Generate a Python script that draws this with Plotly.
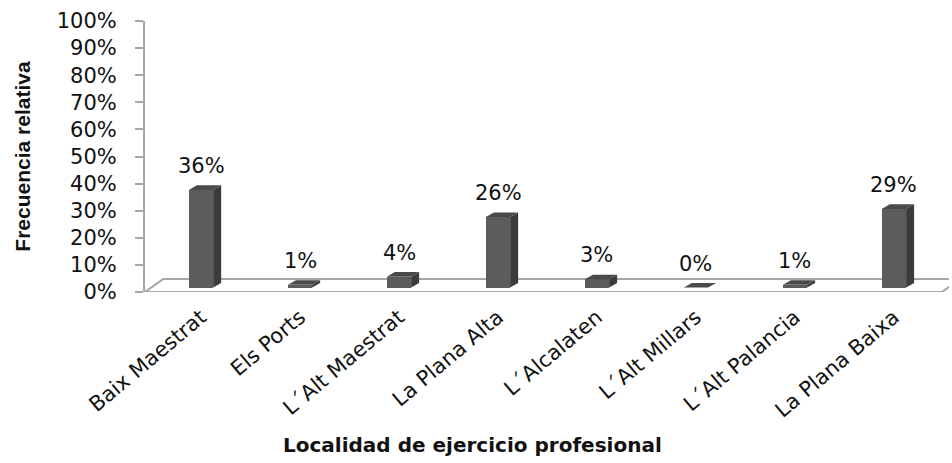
import plotly.graph_objects as go

# Frequency of professional practice by comarca
categories = ["Baix Maestrat", "Els Ports", "L\u00b4Alt Maestrat", "La Plana Alta",
              "L\u00b4Alcalaten", "L\u00b4Alt Millars", "L\u00b4Alt Palancia", "La Plana Baixa"]
values = [36, 1, 4, 26, 3, 0, 1, 29]
y_ticks = list(range(0, 101, 10))
y_tick_labels = [f"{t}%" for t in y_ticks]
x_title = "Localidad de ejercicio profesional"
y_title = "Frecuencia relativa"

# pseudo-3D geometry (category units / percentage units)
BAR_W = 0.245
BAR_BASE = 1.66        # bars stand slightly back on the floor
DEPTH_X = 0.081
DEPTH_Y = 1.7
FLOOR_X = 0.185
FLOOR_Y = 4.8
X_MIN, X_MAX = -0.566, 7.556

FRONT = "#5c5c5c"
SIDE = "#3b3b3b"
TOP = "#4a4a4a"
EDGE = "#a6a6a6"
TEXT = "#111111"

fig = go.Figure()

# floor of the 3-D plot, kept beneath the bars
fx0, fx1 = X_MIN, 7.485
fig.add_shape(
    type="path", xref="x", yref="y", layer="below",
    path=(f"M {fx0},0 L {fx1},0 L {fx1 + FLOOR_X},{FLOOR_Y} "
          f"L {fx0 + FLOOR_X},{FLOOR_Y} Z"),
    line=dict(color=EDGE, width=2), fillcolor="white",
)

# front faces
fig.add_trace(go.Bar(
    x=list(range(len(categories))), y=values, base=[BAR_BASE] * len(values),
    width=BAR_W, marker=dict(color=FRONT, line=dict(width=0)),
    showlegend=False, hoverinfo="skip",
))

# side and top faces
for i, v in enumerate(values):
    xl, xr = i - BAR_W / 2, i + BAR_W / 2
    y0, y1 = BAR_BASE, BAR_BASE + v
    fig.add_trace(go.Scatter(
        x=[xr, xr + DEPTH_X, xr + DEPTH_X, xr, xr],
        y=[y0, y0 + DEPTH_Y, y1 + DEPTH_Y, y1, y0],
        mode="lines", line=dict(width=0, color=SIDE), fill="toself",
        fillcolor=SIDE, hoverinfo="skip", showlegend=False,
    ))
    fig.add_trace(go.Scatter(
        x=[xl, xr, xr + DEPTH_X, xl + DEPTH_X, xl],
        y=[y1, y1, y1 + DEPTH_Y, y1 + DEPTH_Y, y1],
        mode="lines", line=dict(width=0, color=TOP), fill="toself",
        fillcolor=TOP, hoverinfo="skip", showlegend=False,
    ))
    fig.add_annotation(
        x=i, y=y1, text=f"{v}%", showarrow=False, yanchor="middle",
        yshift=24, font=dict(family="DejaVu Sans", size=21, color=TEXT),
    )

# horizontal axis title, centred under the category labels
fig.add_annotation(
    xref="paper", yref="paper", x=0.407, y=-0.565, xanchor="center", yanchor="middle",
    text=f"<b>{x_title}</b>", showarrow=False,
    font=dict(family="DejaVu Sans", size=20, color=TEXT),
)

fig.update_layout(
    width=952, height=463,
    margin=dict(l=145, r=3, t=21, b=171),
    paper_bgcolor="white", plot_bgcolor="white",
    bargap=0,
    xaxis=dict(
        range=[X_MIN, X_MAX], tickmode="array",
        tickvals=list(range(len(categories))), ticktext=categories,
        tickangle=-40, showgrid=False, zeroline=False, showline=False,
        ticks="", ticklabelstandoff=8,
        tickfont=dict(family="DejaVu Sans", size=21, color=TEXT),
    ),
    yaxis=dict(
        range=[0, 100], tickmode="array", tickvals=y_ticks, ticktext=y_tick_labels,
        showgrid=False, zeroline=False, showline=True, linecolor=EDGE, linewidth=2,
        ticks="outside", ticklen=8, tickcolor=EDGE, tickwidth=2,
        ticklabelstandoff=14,
        tickfont=dict(family="DejaVu Sans", size=21, color=TEXT),
        title=dict(text=f"<b>{y_title}</b>",
                   font=dict(family="Liberation Sans Narrow, Liberation Sans", size=21,
                             color=TEXT),
                   standoff=20),
    ),
)

fig.write_html("out.html")
